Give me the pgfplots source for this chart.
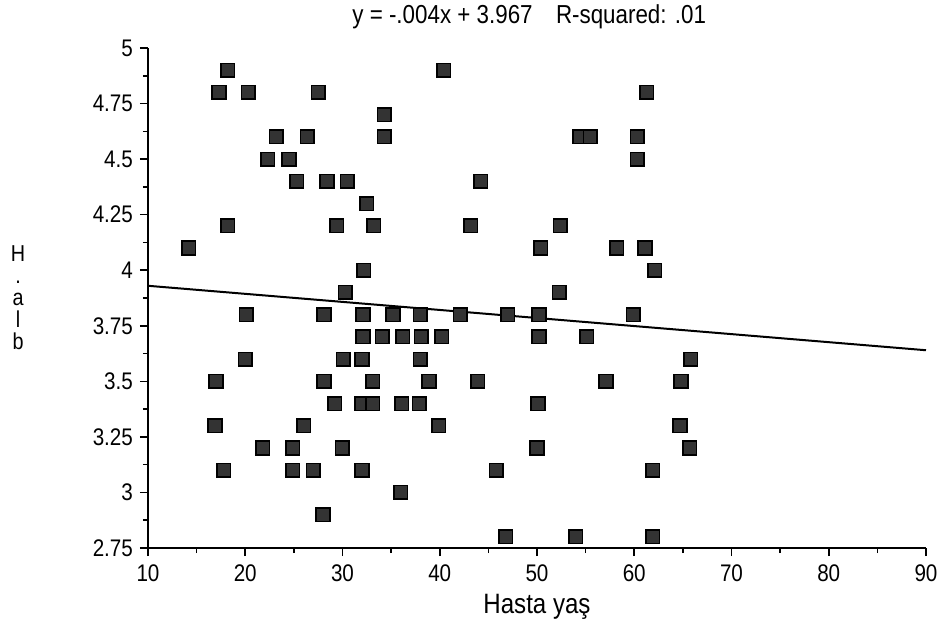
\documentclass[border=0pt]{standalone}
\usepackage{fontspec}
\setmainfont{Liberation Sans}[FakeStretch=0.86]
\usepackage{pgfplots}
\pgfplotsset{compat=1.18}
\begin{document}
\begin{tikzpicture}
\useasboundingbox (-74pt,-43pt) rectangle (397pt,274pt);
\begin{axis}[
  scale only axis, width=389pt, height=250pt,
  xmin=10, xmax=90, ymin=2.75, ymax=5,
  axis lines*=left,
  axis line style={line width=1pt},
  xtick={10,20,30,40,50,60,70,80,90},
  minor xtick={15,25,35,45,55,65,75,85},
  ytick={2.75,3,3.25,3.5,3.75,4,4.25,4.5,4.75,5},
  minor ytick={2.875,3.125,3.375,3.625,3.875,4.125,4.375,4.625,4.875},
  tick align=outside, major tick length=4pt, minor tick length=2.5pt,
  tick style={black, line width=0.8pt},
  /pgf/number format/assume math mode=true,
  ticklabel style={font=\fontsize{12}{14}\selectfont},
  xticklabel style={yshift=-1pt},
  clip=false,
  title={y = -.004x + 3.967\hspace{0.9em}R-squared: .01},
  title style={at={(axis description cs:0.49,1)}, anchor=center, yshift=9.5pt, font=\fontsize{13}{15}\selectfont},
  xlabel={Hasta yaş},
  xlabel style={font=\fontsize{14}{16}\selectfont, yshift=1pt},
  ylabel={H\\.\\a\\l\\b},
  ylabel style={rotate=-90, align=center, at={(axis description cs:-0.167,0.5)}, anchor=center, font=\fontsize{11.5}{11}\selectfont},
]
\addplot[black, line width=1pt] coordinates {(10,3.93) (90,3.64)};
\addplot[only marks, mark=square*, mark size=3.4pt, mark options={fill=black!80, draw=black, line width=0.8pt}] coordinates {
(18.2,4.9) (40.4,4.9)
(17.3,4.8) (20.3,4.8) (27.5,4.8) (61.3,4.8)
(34.3,4.7)
(23.2,4.6) (26.4,4.6) (34.3,4.6) (54.4,4.6) (55.5,4.6) (60.3,4.6)
(22.3,4.5) (24.5,4.5) (60.3,4.5)
(25.3,4.4) (28.4,4.4) (30.5,4.4) (44.2,4.4)
(32.5,4.3)
(18.2,4.2) (29.4,4.2) (33.2,4.2) (43.2,4.2) (52.4,4.2)
(14.2,4.1) (50.4,4.1) (58.2,4.1) (61.1,4.1)
(32.2,4.0) (62.1,4.0)
(30.3,3.9) (52.3,3.9)
(20.1,3.8) (28.1,3.8) (32.1,3.8) (35.2,3.8) (38.0,3.8) (42.1,3.8) (47.0,3.8) (50.2,3.8) (59.9,3.8)
(32.1,3.7) (34.1,3.7) (36.2,3.7) (38.1,3.7) (40.2,3.7) (50.2,3.7) (55.1,3.7)
(20.0,3.6) (30.1,3.6) (32.0,3.6) (38.0,3.6) (65.8,3.6)
(17.0,3.5) (28.1,3.5) (33.1,3.5) (38.9,3.5) (43.9,3.5) (57.1,3.5) (64.8,3.5)
(29.2,3.4) (32.0,3.4) (33.1,3.4) (36.1,3.4) (37.9,3.4) (50.1,3.4)
(16.9,3.3) (26.0,3.3) (39.9,3.3) (64.7,3.3)
(21.8,3.2) (24.9,3.2) (30.0,3.2) (50.0,3.2) (65.7,3.2)
(17.8,3.1) (24.9,3.1) (27.0,3.1) (32.0,3.1) (45.8,3.1) (61.9,3.1)
(36.0,3.0)
(28.0,2.9)
(46.8,2.8) (54.0,2.8) (61.9,2.8)
};
\end{axis}
\end{tikzpicture}
\end{document}
